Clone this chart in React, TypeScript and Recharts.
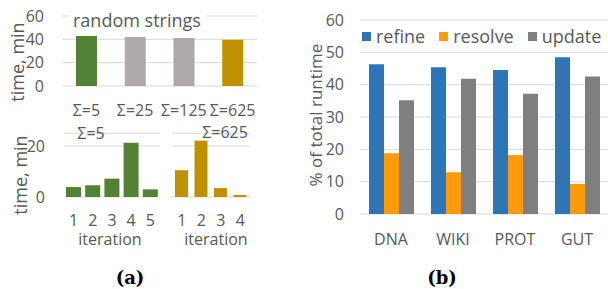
import React from 'react';
import { BarChart, Bar, XAxis, YAxis, CartesianGrid, Cell, Legend } from 'recharts';

const topCategories = ['Σ=5', 'Σ=25', 'Σ=125', 'Σ=625'];
const topValues = [42.8, 42.0, 41.1, 39.7];
const topColors = ['#548235', '#AEAAAA', '#AEAAAA', '#BF9000'];

const iterLeft = ['1', '2', '3', '4', '5'];
const iterLeftValues = [3.9, 4.6, 7.2, 21.3, 3.0];
const iterRight = ['1', '2', '3', '4'];
const iterRightValues = [10.5, 22.1, 3.5, 0.8];

const datasets = ['DNA', 'WIKI', 'PROT', 'GUT'];
const refine = [46.3, 45.4, 44.5, 48.5];
const resolve = [18.8, 12.9, 18.2, 9.3];
const update = [35.2, 41.8, 37.2, 42.5];

const FONT = '"Open Sans", sans-serif';
const TXT = '#595959';
const GRID = '#D9D9D9';

const topData = topCategories.map((name, i) => ({ name, value: topValues[i] }));
const leftData = iterLeft.map((name, i) => ({ name, value: iterLeftValues[i] }));
const rightData = iterRight.map((name, i) => ({ name, value: iterRightValues[i] }));
const bData = datasets.map((name, i) => ({ name, refine: refine[i], resolve: resolve[i], update: update[i] }));

const tickStyle = { fill: TXT, fontSize: 16, fontFamily: FONT };

const LegendContent = (props: any) => {
  const { payload } = props;
  return (
    <div style={{ display: 'flex', alignItems: 'center', fontFamily: FONT, fontSize: 18, color: TXT, whiteSpace: 'nowrap' }}>
      {payload.map((p: any) => (
        <div key={p.value} style={{ display: 'flex', alignItems: 'center', marginRight: 14 }}>
          <span style={{ display: 'inline-block', width: 9, height: 9, background: p.color, marginRight: 5 }} />
          <span>{p.value}</span>
        </div>
      ))}
    </div>
  );
};

export default function App() {
  return (
    <div style={{ position: 'absolute', left: 0, top: 0, width: 608, height: 289, background: '#fff', overflow: 'hidden' }}>
      {/* (a) top */}
      <div style={{ position: 'absolute', left: 0, top: 0 }}>
        <BarChart width={270} height={125} data={topData} margin={{ top: 16, right: 13, bottom: 0, left: 0 }}>
          <CartesianGrid horizontal vertical={false} stroke={GRID} />
          <YAxis width={62} domain={[0, 60]} ticks={[0, 20, 40, 60]} tickLine={false} axisLine={false} tickSize={0} tickMargin={18} tick={tickStyle} interval={0} />
          <XAxis dataKey="name" height={39} tickLine={false} axisLine={false} tickSize={0} tickMargin={19} tick={tickStyle} interval={0} />
          <Bar dataKey="value" barSize={21} isAnimationActive={false}>
            {topData.map((d, i) => (
              <Cell key={d.name} fill={topColors[i]} />
            ))}
          </Bar>
        </BarChart>
      </div>
      {/* (a) bottom left */}
      <div style={{ position: 'absolute', left: 0, top: 125 }}>
        <BarChart width={165} height={130} data={leftData} margin={{ top: 8.25, right: 5, bottom: 0, left: 0 }}>
          <CartesianGrid horizontal vertical={false} stroke={GRID} />
          <YAxis width={64} domain={[0, 25]} ticks={[0, 20]} tickLine={false} axisLine={false} tickSize={0} tickMargin={19} tick={tickStyle} interval={0} />
          <XAxis dataKey="name" height={58} tickLine={false} axisLine={false} tickSize={0} tickMargin={18} tick={tickStyle} interval={0} />
          <Bar dataKey="value" barSize={15} fill="#548235" isAnimationActive={false} />
        </BarChart>
      </div>
      {/* (a) bottom right */}
      <div style={{ position: 'absolute', left: 165, top: 125 }}>
        <BarChart width={90} height={130} data={rightData} margin={{ top: 8.25, right: 5, bottom: 0, left: 7 }}>
          <CartesianGrid horizontal vertical={false} stroke={GRID} />
          <YAxis hide domain={[0, 25]} ticks={[0, 20]} />
          <XAxis dataKey="name" height={58} tickLine={false} axisLine={false} tickSize={0} tickMargin={18} tick={tickStyle} interval={0} />
          <Bar dataKey="value" barSize={13} fill="#BF9000" isAnimationActive={false} />
        </BarChart>
      </div>
      {/* (b) */}
      <div style={{ position: 'absolute', left: 290, top: 0 }}>
        <BarChart width={318} height={250} data={bData} margin={{ top: 20, right: 0, bottom: 0, left: 0 }} barGap={0}>
          <CartesianGrid horizontal vertical={false} stroke={GRID} />
          <YAxis width={70} domain={[0, 60]} ticks={[0, 10, 20, 30, 40, 50, 60]} tickLine={false} axisLine={false} tickSize={0} tickMargin={16} tick={tickStyle} interval={0} />
          <XAxis dataKey="name" height={36} tickLine={false} axisLine={false} tickSize={0} tickMargin={20} tick={tickStyle} interval={0} />
          <Legend layout="horizontal" verticalAlign="middle" align="center" content={<LegendContent />} wrapperStyle={{ top: 24, left: 72, width: 250, height: 22 }} />
          <Bar dataKey="refine" name="refine" fill="#2E75B6" barSize={15} isAnimationActive={false} />
          <Bar dataKey="resolve" name="resolve" fill="#FF9A0A" barSize={15} isAnimationActive={false} />
          <Bar dataKey="update" name="update" fill="#7F7F7F" barSize={15} isAnimationActive={false} />
        </BarChart>
      </div>
      {/* text overlay */}
      <svg width={608} height={289} style={{ position: 'absolute', left: 0, top: 0, pointerEvents: 'none' }}>
        <rect x={69} y={9} width={138} height={22} fill="#fff" />
        <text x={73} y={27} fontSize={18} fontFamily={FONT} fill={TXT}>random strings</text>
        <text x={0} y={0} transform="translate(24,62) rotate(-90)" textAnchor="middle" fontSize={18} fontFamily={FONT} fill={TXT}>time, min</text>
        <text x={0} y={0} transform="translate(27,175) rotate(-90)" textAnchor="middle" fontSize={18} fontFamily={FONT} fill={TXT}>time, min</text>
        <text x={91} y={139} textAnchor="middle" fontSize={16} fontFamily={FONT} fill={TXT}>Σ=5</text>
        <text x={225} y={138} textAnchor="middle" fontSize={16} fontFamily={FONT} fill={TXT}>Σ=625</text>
        <text x={110} y={245} textAnchor="middle" fontSize={16} fontFamily={FONT} fill={TXT}>iteration</text>
        <text x={216} y={245} textAnchor="middle" fontSize={16} fontFamily={FONT} fill={TXT}>iteration</text>
        <text x={0} y={0} transform="translate(322,115) rotate(-90)" textAnchor="middle" fontSize={17} fontFamily={FONT} fill={TXT}>% of total runtime</text>
        <text x={130} y={284} textAnchor="middle" fontSize={18} fontWeight="bold" fontFamily='"DejaVu Serif", serif' fill="#000">(a)</text>
        <text x={442} y={284} textAnchor="middle" fontSize={18} fontWeight="bold" fontFamily='"DejaVu Serif", serif' fill="#000">(b)</text>
      </svg>
    </div>
  );
}
